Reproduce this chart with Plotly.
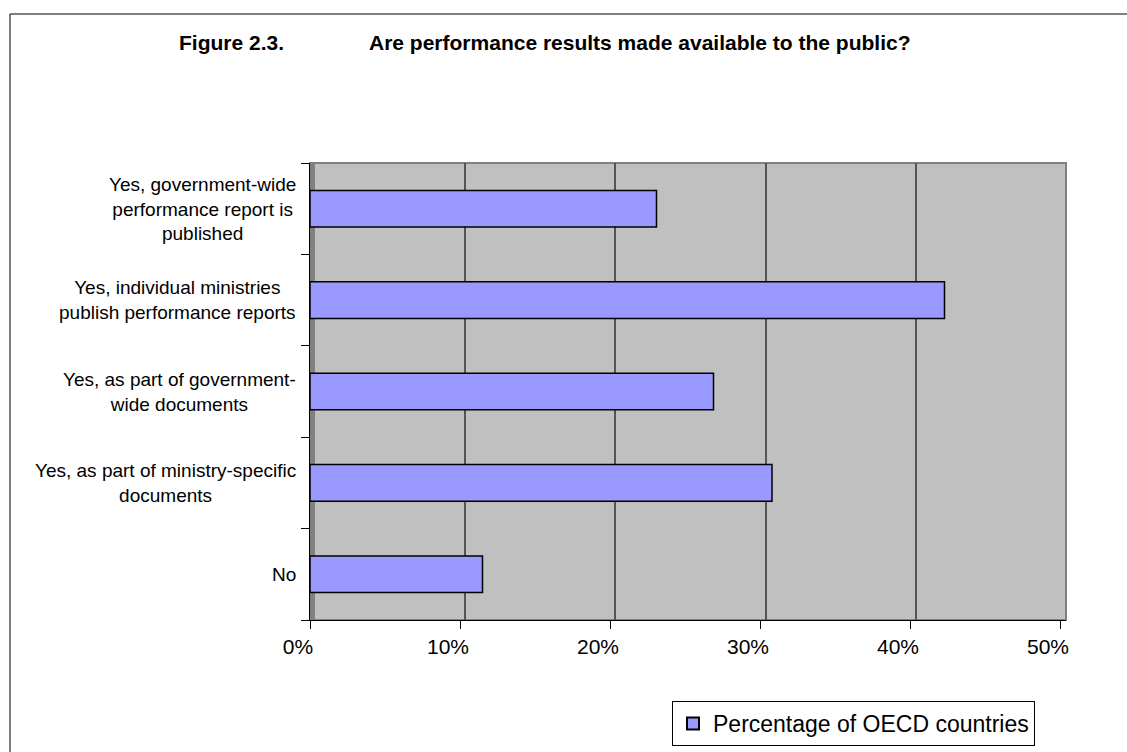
import plotly.graph_objects as go

categories = [
    "Yes, government-wide<br>performance report is<br>published",
    "Yes, individual ministries<br>publish performance reports",
    "Yes, as part of government-<br>wide documents",
    "Yes, as part of ministry-specific<br>documents",
    "No",
]
values = [23.1, 42.3, 26.9, 30.8, 11.5]
x_ticks = [0, 10, 20, 30, 40, 50]
x_tick_labels = ["0%", "10%", "20%", "30%", "40%", "50%"]
grid_ticks = [10, 20, 30, 40]
series_name = "Percentage of OECD countries"

W, H = 1127, 752
L, R, T, B = 310, 1066, 163, 620
MB = H - B  # bottom margin; top margin is 0 so the legend padding is 0

def fx(x):
    return (x - L) / (R - L)

def fy(y):
    return (B - y) / B

FONT = "Liberation Sans, Arial, sans-serif"

fig = go.Figure()
fig.add_trace(go.Bar(
    y=categories, x=values, orientation="h", name=series_name,
    marker=dict(color="#9999FF", line=dict(color="#000000", width=1.5)),
    showlegend=True, xaxis="x", yaxis="y",
))
# invisible helper so the back-wall axis (gridlines) is drawn
fig.add_trace(go.Scatter(
    y=categories, x=values, xaxis="x2", yaxis="y", mode="none",
    showlegend=False, hoverinfo="skip",
))

annotations = []
for c in categories:
    annotations.append(dict(
        x=0, xref="x domain", y=c, yref="y", text=c, showarrow=False,
        xanchor="right", yanchor="middle", align="center", xshift=-12,
        font=dict(family=FONT, size=19, color="#000000"),
    ))
annotations.append(dict(
    x=fx(177), y=fy(42), xref="paper", yref="paper", text="<b>Figure 2.3.</b>",
    showarrow=False, xanchor="left", yanchor="middle",
    font=dict(family=FONT, size=21, color="#000000"),
))
annotations.append(dict(
    x=fx(367), y=fy(42), xref="paper", yref="paper",
    text="<b>Are performance results made available to the public?</b>",
    showarrow=False, xanchor="left", yanchor="middle",
    font=dict(family=FONT, size=21, color="#000000"),
))

shapes = [
    # outer frame (left & top edges visible)
    dict(type="rect", xref="paper", yref="paper", x0=fx(10), y0=fy(770), x1=fx(1150), y1=fy(14),
         line=dict(color="#000000", width=1), fillcolor="rgba(0,0,0,0)", layer="below"),
    # back wall border
    dict(type="rect", xref="x domain", yref="y domain", x0=0, y0=0, x1=1, y1=1,
         line=dict(color="#808080", width=2), fillcolor="rgba(0,0,0,0)", layer="below"),
    # left side wall strip
    dict(type="rect", xref="x domain", yref="y domain", x0=0, y0=0, x1=5 / (R - L), y1=1,
         line=dict(width=0), fillcolor="#808080", layer="below"),
]

pw = R - L
front_max = 50 * pw / (1060 - L)
back_min = -50 * (315 - L) / (R - 315)

fig.update_layout(
    width=W, height=H,
    margin=dict(l=L, r=W - R, t=0, b=MB, pad=0),
    paper_bgcolor="#FFFFFF", plot_bgcolor="#C0C0C0",
    bargap=0.6,
    font=dict(family=FONT, color="#000000"),
    annotations=annotations,
    shapes=shapes,
    legend=dict(
        x=fx(672), y=fy(746), xanchor="left", yanchor="bottom",
        bgcolor="#FFFFFF", bordercolor="#000000", borderwidth=1,
        font=dict(family=FONT, size=23, color="#000000"),
        itemsizing="constant", tracegroupgap=0,
    ),
    xaxis=dict(
        range=[0, front_max], tickvals=x_ticks, ticktext=x_tick_labels,
        showgrid=False, zeroline=False, showline=True, linecolor="#000000", linewidth=1,
        ticks="outside", ticklen=8, tickcolor="#000000", ticklabelshift=-12,
        tickfont=dict(family=FONT, size=21, color="#000000"),
        fixedrange=True,
    ),
    xaxis2=dict(
        overlaying="x", anchor="y", side="top",
        range=[back_min, 50], tickvals=grid_ticks,
        showgrid=True, gridcolor="#555555", gridwidth=2,
        showticklabels=False, ticks="", zeroline=False, showline=False,
        fixedrange=True,
    ),
    yaxis=dict(
        domain=[0, fy(T)],
        categoryorder="array", categoryarray=categories[::-1],
        showticklabels=False, showgrid=False, zeroline=False,
        showline=True, linecolor="#000000", linewidth=1,
        ticks="outside", ticklen=8, tickcolor="#000000", tickson="boundaries",
        fixedrange=True,
    ),
)

fig.write_html("out.html")
